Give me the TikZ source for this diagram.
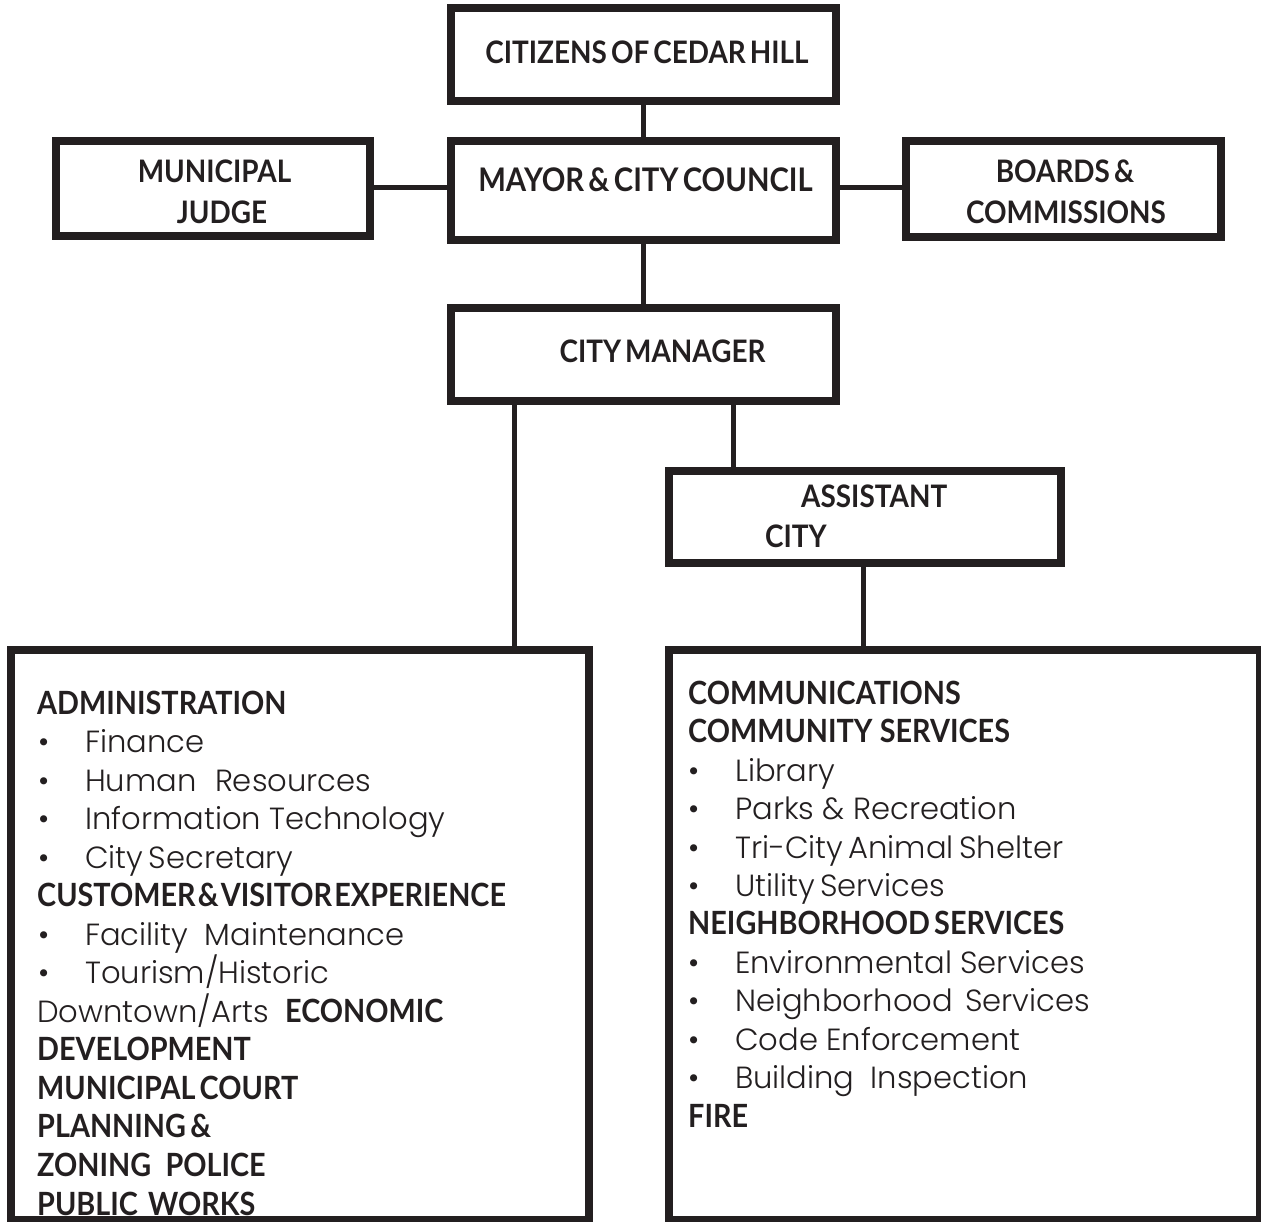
\documentclass[tikz,border=0pt]{standalone}
\usepackage{fontspec}
\newfontfamily\hdfam{Lato}[FakeStretch=0.9,WordSpace=0.6]
\newfontfamily\itfam{Poppins Light}
\definecolor{ink}{HTML}{231F20}
\newcommand{\hdsize}{\hdfam\bfseries\fontsize{32}{32}\selectfont}
\newcommand{\topsize}{\hdfam\bfseries\fontsize{31}{31}\selectfont}
\newcommand{\itsize}{\itfam\fontsize{30.6}{30.6}\selectfont}
\begin{document}
\begin{tikzpicture}[x=1pt,y=-1pt,
  box/.style={draw=ink, line width=8pt, inner sep=0pt},
  conn/.style={draw=ink, line width=5pt},
  toptxt/.style={anchor=base, inner sep=0pt, text=ink, font=\topsize},
  toplft/.style={anchor=base west, inner sep=0pt, text=ink, font=\topsize},
  hd/.style={anchor=base west, inner sep=0pt, text=ink, font=\hdsize},
  it/.style={anchor=base west, inner sep=0pt, text=ink, font=\itsize},
  bul/.style={anchor=base west, inner sep=0pt, text=ink, font=\itsize}]
\useasboundingbox (0,0) rectangle (1261,1221);
\clip (0,0) rectangle (1261,1221);
\fill[white] (0,0) rectangle (1261,1221);

% top texts
\node[toptxt] (tcit) at (647,63) {CITIZENS OF CEDAR HILL};
\node[toptxt, font=\hdfam\bfseries\fontsize{32.5}{32.5}\selectfont] (tmay) at (645.5,191) {MAYOR \& CITY COUNCIL};
\node[toptxt] (tjud1) at (214.5,182) {MUNICIPAL};
\node[toptxt] (tjud2) at (222,223) {JUDGE};
\node[toptxt] (tbrd1) at (1065,182) {BOARDS \&};
\node[toptxt] (tbrd2) at (1066,223) {COMMISSIONS};
\node[toptxt] (tcm) at (662.5,362) {CITY MANAGER};
\node[toplft] (tas1) at (801,507) {ASSISTANT};
\node[toplft] (tas2) at (765,547) {CITY};

% left list
\node[hd] (l0) at (37,714) {ADMINISTRATION};
\node[bul] (lb1) at (38,752.5) {•};
\node[it] (l1) at (85,752.5) {Finance};
\node[bul] (lb2) at (38,791) {•};
\node[it] (l2) at (85,791) {Human\hspace{10pt} Resources};
\node[bul] (lb3) at (38,829.5) {•};
\node[it] (l3) at (85,829.5) {Information Technology};
\node[bul] (lb4) at (38,868) {•};
\node[it] (l4) at (85,868) {City\hspace{-3pt} Secretary};
\node[hd] (l5) at (37,906.5) {CUSTOMER\hspace{-2pt} \&\hspace{-2pt} VISITOR\hspace{-2pt} EXPERIENCE};
\node[bul] (lb6) at (38,945) {•};
\node[it] (l6) at (85,945) {Facility\hspace{8pt} Maintenance};
\node[bul] (lb7) at (38,983.5) {•};
\node[it] (l7) at (85,983.5) {Tourism/Historic};
\node[it] (l8a) at (37,1022) {Downtown/Arts};
\node[hd] (l8b) at (285,1022) {ECONOMIC};
\node[hd] (l9) at (37,1060.5) {DEVELOPMENT};
\node[hd] (l10) at (37,1099) {MUNICIPAL COURT};
\node[hd] (l11) at (37,1137.5) {PLANNING \&};
\node[hd] (l12) at (37,1176) {ZONING\hspace{10pt} POLICE};
\node[hd] (l13) at (37,1215) {PUBLIC\hspace{6pt} WORKS};

% right list
\node[hd] (r0) at (688,704) {COMMUNICATIONS};
\node[hd] (r1) at (688,742.5) {COMMUNITY\hspace{3pt} SERVICES};
\node[bul] (rb2) at (688,781) {•};
\node[it] (r2) at (735,781) {Library};
\node[bul] (rb3) at (688,819.5) {•};
\node[it] (r3) at (735,819.5) {Parks \& Recreation};
\node[bul] (rb4) at (688,858) {•};
\node[it] (r4) at (735,858) {Tri-City\hspace{-3pt} Animal\hspace{-3pt} Shelter};
\node[bul] (rb5) at (688,896) {•};
\node[it] (r5) at (735,896) {Utility\hspace{-3pt} Services};
\node[hd] (r6) at (688,934.5) {NEIGHBORHOOD SERVICES};
\node[bul] (rb7) at (688,973) {•};
\node[it] (r7) at (735,973) {Environmental Services};
\node[bul] (rb8) at (688,1011.5) {•};
\node[it] (r8) at (735,1011.5) {Neighborhood\hspace{4pt} Services};
\node[bul] (rb9) at (688,1050) {•};
\node[it] (r9) at (735,1050) {Code Enforcement};
\node[bul] (rb10) at (688,1088.5) {•};
\node[it] (r10) at (735,1088.5) {Building\hspace{8pt} Inspection};
\node[hd] (r11) at (688,1127) {FIRE};

% boxes (drawn over the texts)
\node[box, minimum width=385pt, minimum height=93pt] (cit) at (643.5,54.5) {};
\node[box, minimum width=385pt, minimum height=99pt] (may) at (643.5,190.5) {};
\node[box, minimum width=314pt, minimum height=95pt] (jud) at (213,188.5) {};
\node[box, minimum width=315pt, minimum height=96pt] (brd) at (1063.5,189) {};
\node[box, minimum width=385pt, minimum height=93pt] (cm) at (643.5,354.5) {};
\node[box, minimum width=392pt, minimum height=92pt] (asst) at (865,517) {};
\node[box, minimum width=578pt, minimum height=570pt] (adm) at (300,935) {};
\node[box, minimum width=591pt, minimum height=570pt] (com) at (964.5,935) {};

% connector coordinates
\coordinate (xl) at (514.5,0);
\coordinate (xr) at (733,0);
\coordinate (xa) at (863,0);
\coordinate (yh) at (0,187);

% connectors
\draw[conn] (cit.south) -- (may.north);
\draw[conn] (jud.east |- yh) -- (may.west |- yh);
\draw[conn] (may.east |- yh) -- (brd.west |- yh);
\draw[conn] (may.south) -- (cm.north);
\draw[conn] (cm.south -| xl) -- (adm.north -| xl);
\draw[conn] (cm.south -| xr) -- (asst.north -| xr);
\draw[conn] (asst.south -| xa) -- (com.north -| xa);
\end{tikzpicture}
\end{document}
